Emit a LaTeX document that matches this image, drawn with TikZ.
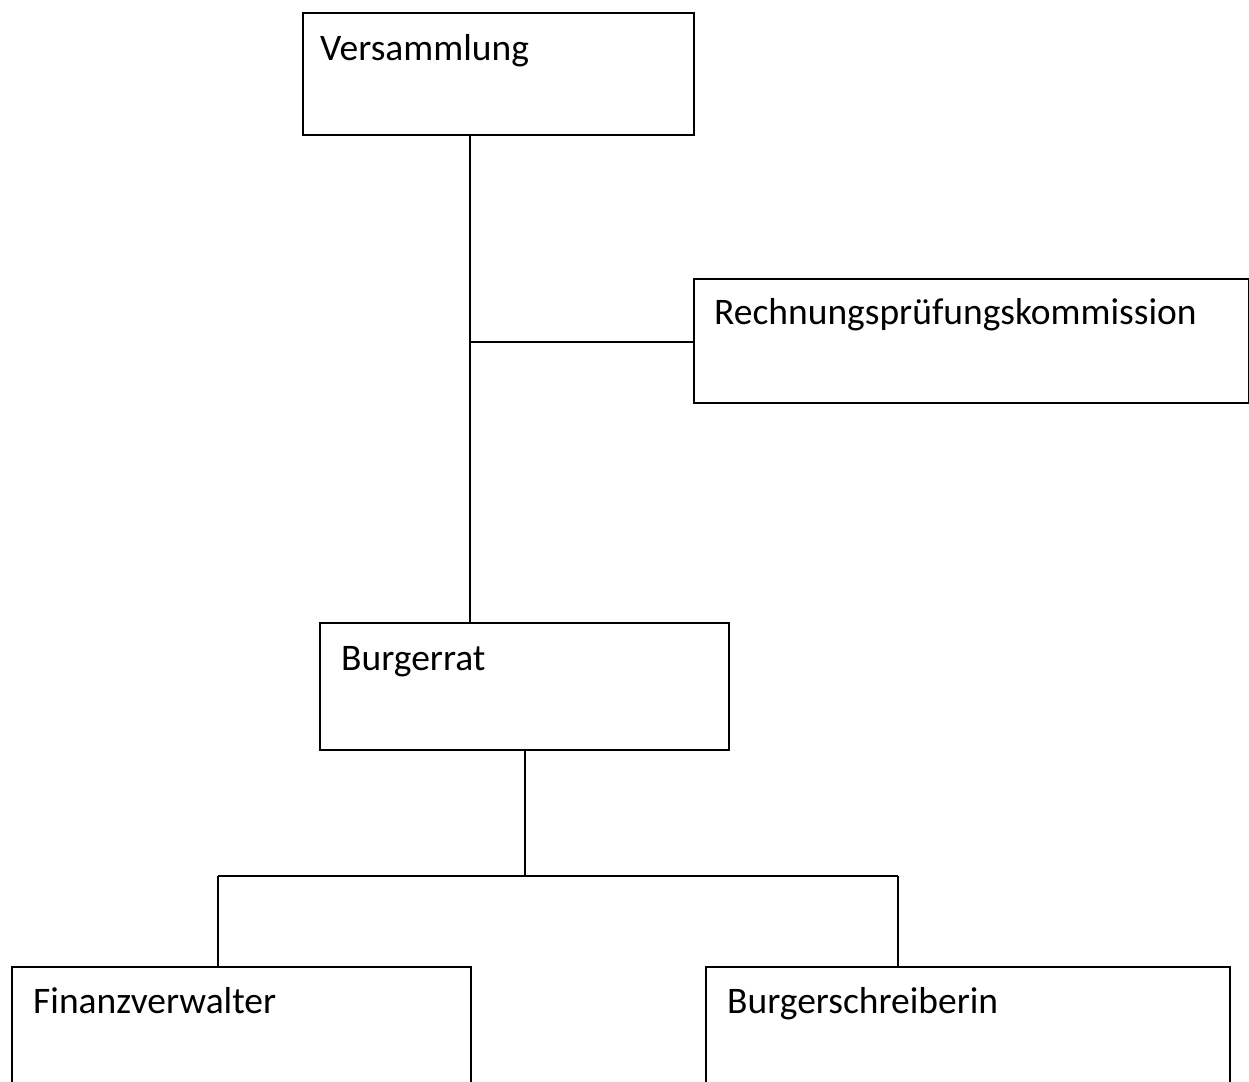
\documentclass[tikz,border=0pt]{standalone}
\usepackage{fontspec}
\setmainfont{Carlito}
\usetikzlibrary{calc}
\begin{document}
\begin{tikzpicture}[x=1pt,y=-1pt,
  box/.style={draw=black, line width=2pt, rectangle, anchor=north west, inner sep=0pt},
  lbl/.style={anchor=base west, inner sep=0pt, font=\fontsize{37.5}{44}\selectfont},
  conn/.style={draw=black, line width=2pt}]
\useasboundingbox (0,0) rectangle (1249,1081);
\clip (0,0) rectangle (1249,1081);
\fill[white] (0,0) rectangle (1249,1081);
% boxes
\node[box, minimum width=391pt, minimum height=122pt] (v) at (302,12) {};
\node[box, minimum width=555pt, minimum height=124pt] (r) at (693,278) {};
\node[box, minimum width=409pt, minimum height=127pt] (b) at (319,622) {};
\node[box, minimum width=459pt, minimum height=140pt] (f) at (11,966) {};
\node[box, minimum width=524pt, minimum height=140pt] (s) at (705,966) {};
% labels
\node[lbl] (vt) at ($(v.north west)+(18,48)$) {Versammlung};
\node[lbl] (rt) at ($(r.north west)+(21,46)$) {Rechnungsprüfungskommission};
\node[lbl] (bt) at ($(b.north west)+(22,48)$) {Burgerrat};
\node[lbl] (ft) at ($(f.north west)+(22,47)$) {Finanzverwalter};
\node[lbl] (st) at ($(s.north west)+(22,47)$) {Burgerschreiberin};
% connectors
\coordinate (j1) at (470,342);
\coordinate (j2) at (525,876);
\coordinate (jl) at (218,876);
\coordinate (jr) at (898,876);
\draw[conn] (470,134) -- (470,622);
\draw[conn] (j1) -- (r.west |- j1);
\draw[conn] (b.south -| j2) -- (j2);
\draw[conn] (jl) -- (jr);
\draw[conn] (jl) -- (jl |- f.north);
\draw[conn] (jr) -- (jr |- s.north);
\end{tikzpicture}
\end{document}
